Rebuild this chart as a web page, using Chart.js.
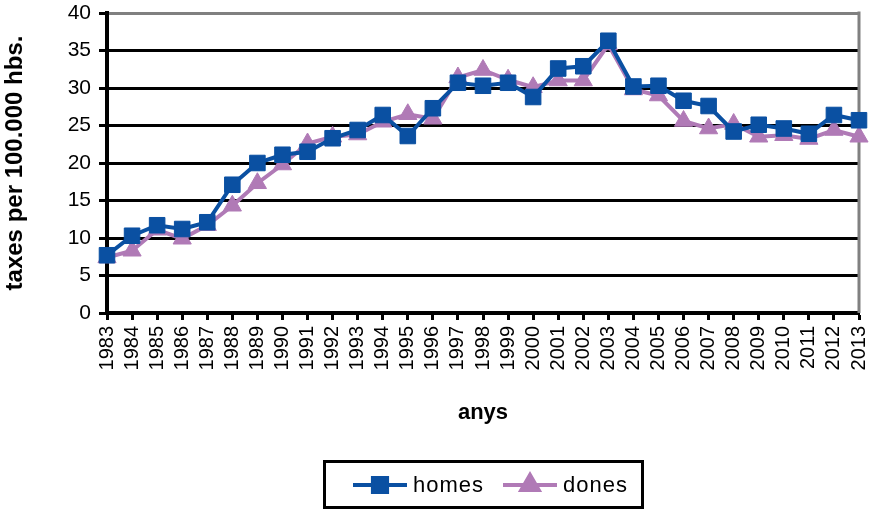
<!DOCTYPE html>
<html>
<head>
<meta charset="utf-8">
<script src="https://cdn.jsdelivr.net/npm/chart.js@4"></script>
<style>body{margin:0;background:#fff}</style>
</head>
<body>
<canvas id="myChart" width="871" height="509"></canvas>
<script>
var years = ['1983','1984','1985','1986','1987','1988','1989','1990','1991','1992','1993','1994','1995','1996','1997','1998','1999','2000','2001','2002','2003','2004','2005','2006','2007','2008','2009','2010','2011','2012','2013'];
var homes = [7.7, 10.3, 11.7, 11.2, 12.1, 17.1, 20.0, 21.1, 21.5, 23.3, 24.4, 26.4, 23.6, 27.3, 30.7, 30.3, 30.7, 28.8, 32.6, 32.9, 36.3, 30.2, 30.3, 28.3, 27.6, 24.2, 25.1, 24.6, 23.9, 26.4, 25.7];
var dones = [7.4, 8.3, 11.1, 9.9, 11.7, 14.3, 17.3, 19.8, 22.6, 23.5, 23.8, 25.5, 26.5, 25.9, 31.4, 32.4, 31.1, 30.1, 31.0, 31.0, 35.8, 29.8, 29.0, 25.6, 24.6, 25.2, 23.5, 23.7, 23.2, 24.4, 23.5];

var blue = '#0A50A2';
var purple = '#B07AB6';
var font = 'Liberation Sans';

// grey frame on the right, legend box at the bottom
var frame = {
  id: 'frame',
  beforeDatasetsDraw: function(chart) {
    var c = chart.ctx, a = chart.chartArea;
    c.save();
    c.strokeStyle = '#808080';
    c.lineWidth = 3;
    c.beginPath();
    c.moveTo(a.right, a.top - 1.5);
    c.lineTo(a.right, a.bottom);
    c.stroke();
    c.restore();
  },
  afterDraw: function(chart) {
    var c = chart.ctx;
    c.save();
    c.strokeStyle = '#000';
    c.lineWidth = 3;
    c.strokeRect(324.5, 461.5, 318, 46);
    var xs = [353, 503];
    var y = 485;
    chart.data.datasets.forEach(function(ds, i) {
      var x = xs[i];
      c.strokeStyle = ds.borderColor;
      c.lineWidth = 4;
      c.beginPath();
      c.moveTo(x, y);
      c.lineTo(x + 54, y);
      c.stroke();
      c.fillStyle = ds.borderColor;
      c.strokeStyle = ds.borderColor;
      Chart.helpers.drawPoint(c, {pointStyle: ds.pointStyle, radius: 10, rotation: 0, borderWidth: 1}, x + 27, y);
      c.fillStyle = '#000';
      c.font = '22px "' + font + '"';
      c.letterSpacing = '1px';
      c.textBaseline = 'middle';
      c.fillText(ds.label, x + 60, y + 1);
    });
    c.restore();
  }
};

var ctx = document.getElementById('myChart');
var myChart = new Chart(ctx, {
  type: 'line',
  data: {
    labels: years,
    datasets: [{
      label: 'homes',
      data: homes,
      borderColor: blue,
      backgroundColor: blue,
      borderWidth: 4,
      pointStyle: 'rect',
      pointRadius: 11,
      pointBorderWidth: 1,
      clip: false
    }, {
      label: 'dones',
      data: dones,
      borderColor: purple,
      backgroundColor: purple,
      borderWidth: 4,
      pointStyle: 'triangle',
      pointRadius: 10.5,
      pointBorderWidth: 1,
      clip: false
    }]
  },
  options: {
    responsive: false,
    animation: false,
    layout: { padding: { top: 13, right: 5, bottom: 0, left: 0 } },
    plugins: {
      legend: { display: false },
      tooltip: { enabled: false }
    },
    scales: {
      x: {
        offset: false,
        grid: { drawOnChartArea: false, drawTicks: true, tickLength: 7, tickColor: '#000', tickWidth: 3 },
        border: { color: '#000', width: 4 },
        ticks: {
          autoSkip: false, maxRotation: 90, minRotation: 90, padding: 6,
          color: '#000', font: { family: font, size: 20 }
        },
        title: {
          display: true, text: 'anys', color: '#000',
          font: { family: font, size: 22, weight: 'bold' },
          padding: { top: 0, bottom: 83 }
        },
        afterFit: function(scale) {
          scale.height = 196;
          scale.paddingLeft = 0;
          scale.paddingRight = 0;
        }
      },
      y: {
        min: 0, max: 40,
        grid: {
          color: function(c) { return c.tick && c.tick.value === 40 ? '#808080' : '#000'; },
          lineWidth: 3, tickLength: 8, tickColor: '#000', tickWidth: 3
        },
        border: { color: '#000', width: 4 },
        ticks: { stepSize: 5, padding: 8, color: '#000', font: { family: font, size: 21 } },
        title: {
          display: true, text: 'taxes per 100.000 hbs.', color: '#000',
          font: { family: font, size: 24, weight: 'bold' },
          padding: { top: 1, bottom: 0 }
        },
        afterFit: function(scale) {
          scale.width = 107;
          scale.paddingTop = 0;
          scale.paddingBottom = 0;
        }
      }
    }
  },
  plugins: [frame]
});
</script>
</body>
</html>
